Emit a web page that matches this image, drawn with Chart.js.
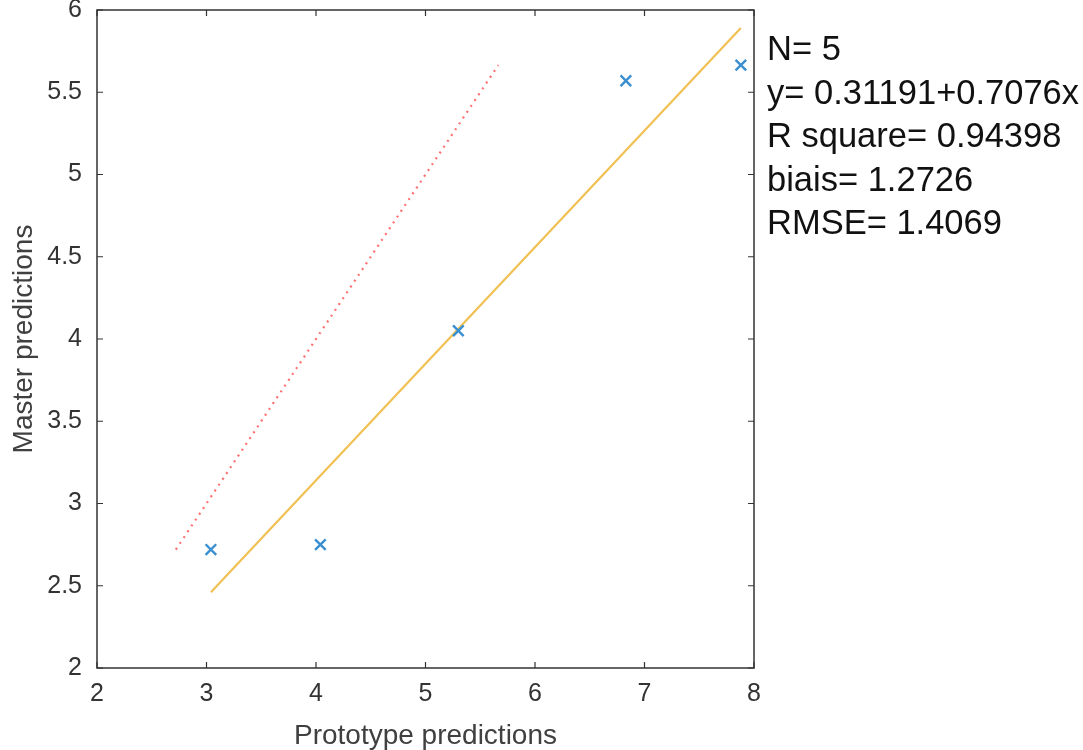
<!DOCTYPE html>
<html lang="en">
<head>
  <meta charset="UTF-8" />
  <title>Master vs Prototype predictions</title>
  <script src="https://cdn.jsdelivr.net/npm/chart.js"></script>
  <style>
    html, body { margin: 0; padding: 0; background: #fff; }
    .wrap { position: relative; width: 1083px; height: 750px; }
  </style>
</head>
<body>
<div class="wrap">
  <canvas id="scatter" role="img" aria-label="Master predictions vs prototype predictions"></canvas>
</div>

<script>
  // measured points
  const protoX = [3.04, 4.04, 5.30, 6.83, 7.88];
  const masterY = [2.72, 2.75, 4.05, 5.57, 5.665];

  // regression line ends (yellow)
  const fitX = [3.04, 7.88];
  const fitY = [2.46, 5.89];

  // 1:1 line (red dotted)
  const idX = [2.72, 5.665];
  const idY = [2.72, 5.665];

  const xTicks = [2, 3, 4, 5, 6, 7, 8];
  const yTicks = [2, 2.5, 3, 3.5, 4, 4.5, 5, 5.5, 6];

  const statLines = ['N= 5', 'y= 0.31191+0.7076x', 'R square= 0.94398', 'biais= 1.2726', 'RMSE= 1.4069'];

  const toXY = (xs, ys) => xs.map((x, i) => ({ x: x, y: ys[i] }));
  const FONT = "'Liberation Sans', Arial, sans-serif";

  // box round the plot + inward ticks on all four sides
  const boxPlugin = {
    id: 'box',
    afterDraw(chart) {
      const { ctx, chartArea: a, scales } = chart;
      ctx.save();
      ctx.strokeStyle = '#333';
      ctx.lineWidth = 1.5;
      ctx.strokeRect(a.left, a.top, a.right - a.left, a.bottom - a.top);
      ctx.lineWidth = 1.2;
      ctx.beginPath();
      xTicks.forEach(v => {
        const px = scales.x.getPixelForValue(v);
        ctx.moveTo(px, a.bottom); ctx.lineTo(px, a.bottom - 6);
        ctx.moveTo(px, a.top); ctx.lineTo(px, a.top + 6);
      });
      yTicks.forEach(v => {
        const py = scales.y.getPixelForValue(v);
        ctx.moveTo(a.left, py); ctx.lineTo(a.left + 6, py);
        ctx.moveTo(a.right, py); ctx.lineTo(a.right - 6, py);
      });
      ctx.stroke();

      // stats text on the right
      ctx.fillStyle = '#111';
      ctx.font = '34.5px ' + FONT;
      ctx.textAlign = 'left';
      ctx.textBaseline = 'alphabetic';
      statLines.forEach((s, i) => ctx.fillText(s, 767, 60 + i * 43.5));
      ctx.restore();
    }
  };

  new Chart(document.getElementById('scatter'), {
    type: 'scatter',
    data: {
      datasets: [
        {
          label: 'data',
          data: toXY(protoX, masterY),
          pointStyle: 'crossRot',
          pointRadius: 7.5,
          borderColor: '#3A8FD0',
          backgroundColor: '#3A8FD0',
          borderWidth: 2.4
        },
        {
          label: 'fit',
          type: 'line',
          data: toXY(fitX, fitY),
          borderColor: '#F0C052',
          borderWidth: 2.2,
          pointRadius: 0
        },
        {
          label: '1:1',
          type: 'line',
          data: toXY(idX, idY),
          borderColor: '#FF7070',
          borderWidth: 2.2,
          borderDash: [2, 5],
          pointRadius: 0
        }
      ]
    },
    options: {
      responsive: true,
      maintainAspectRatio: false,
      animation: false,
      layout: { padding: { left: 0, right: 329, top: 10, bottom: 0 } },
      plugins: { legend: { display: false }, tooltip: { enabled: false } },
      scales: {
        x: {
          type: 'linear',
          min: 2, max: 8,
          afterBuildTicks: s => { s.ticks = xTicks.map(v => ({ value: v })); },
          afterFit: s => { s.height = 82; s.paddingLeft = 0; s.paddingRight = 0; },
          grid: { display: false, drawTicks: false },
          border: { display: false },
          ticks: { color: '#333', padding: 11, font: { family: FONT, size: 25 }, callback: v => String(v) },
          title: {
            display: true, text: 'Prototype predictions', color: '#404040',
            padding: { top: 0, bottom: 0 }, font: { family: FONT, size: 28, lineHeight: 1.0 }
          }
        },
        y: {
          type: 'linear',
          min: 2, max: 6,
          afterBuildTicks: s => { s.ticks = yTicks.map(v => ({ value: v })); },
          afterFit: s => { s.width = 97; s.paddingTop = 0; s.paddingBottom = 0; },
          grid: { display: false, drawTicks: false },
          border: { display: false },
          ticks: { color: '#333', padding: 15, font: { family: FONT, size: 25 }, callback: v => String(v) },
          title: {
            display: true, text: 'Master predictions', color: '#404040',
            padding: { top: 7, bottom: 0 }, font: { family: FONT, size: 28 }
          }
        }
      }
    },
    plugins: [boxPlugin]
  });
</script>
</body>
</html>
